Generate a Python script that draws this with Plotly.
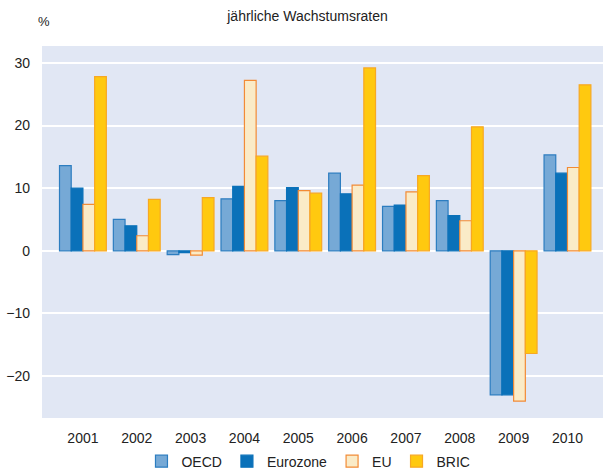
import plotly.graph_objects as go

years = ["2001", "2002", "2003", "2004", "2005", "2006", "2007", "2008", "2009", "2010"]
oecd = [13.6, 5.0, -0.6, 8.3, 8.0, 12.4, 7.1, 8.0, -23.0, 15.3]
eurozone = [10.0, 4.0, -0.3, 10.3, 10.1, 9.1, 7.3, 5.6, -23.0, 12.4]
eu = [7.4, 2.4, -0.7, 27.2, 9.6, 10.5, 9.4, 4.8, -24.0, 13.3]
bric = [27.8, 8.2, 8.5, 15.1, 9.2, 29.2, 12.0, 19.8, -16.4, 26.5]

series = [
    ("OECD", oecd, "#76A9D6", "#2C7DC0"),
    ("Eurozone", eurozone, "#0A71B9", "#0A71B9"),
    ("EU", eu, "#FAEBC7", "#F28B36"),
    ("BRIC", bric, "#FFC90F", "#F7A823"),
]

fig = go.Figure()
for name, vals, fill, line in series:
    fig.add_trace(go.Bar(
        x=years, y=vals, name=name,
        marker=dict(color=fill, line=dict(color=line, width=1.2)),
    ))

fig.update_layout(
    width=603, height=471,
    margin=dict(l=42, r=0, t=46, b=53),
    paper_bgcolor="white",
    plot_bgcolor="#E1E7F4",
    barmode="group",
    bargap=0.13,
    bargroupgap=0,
    font=dict(family="Liberation Sans, Arial, sans-serif", size=14, color="#222222"),
    title=dict(text="jährliche Wachstumsraten", x=0.51, xanchor="center", y=0.965, yanchor="middle",
               font=dict(size=14, color="#222222")),
    legend=dict(orientation="h", x=0.475, xanchor="center", yref="container", y=0.02, yanchor="middle",
                font=dict(size=14), itemwidth=30, traceorder="normal"),
    showlegend=True,
    annotations=[dict(text="%", xref="paper", yref="paper", x=-0.011, y=1.04,
                      xanchor="left", yanchor="bottom", showarrow=False, font=dict(size=13))],
)
fig.update_xaxes(showgrid=False, ticks="", tickfont=dict(size=14), ticklabelstandoff=10,
                 automargin=False, range=[-0.76, 9.66])
fig.update_yaxes(range=[-26.7, 32.7], tickvals=[-20, -10, 0, 10, 20, 30],
                 showgrid=True, gridcolor="white", gridwidth=2,
                 zeroline=True, zerolinecolor="white", zerolinewidth=2,
                 ticks="", ticklabelstandoff=11, tickfont=dict(size=14), automargin=False)

fig.write_html("out.html", config={"displayModeBar": False},
               post_script="document.body.style.margin='0';document.body.style.overflow='hidden';")
